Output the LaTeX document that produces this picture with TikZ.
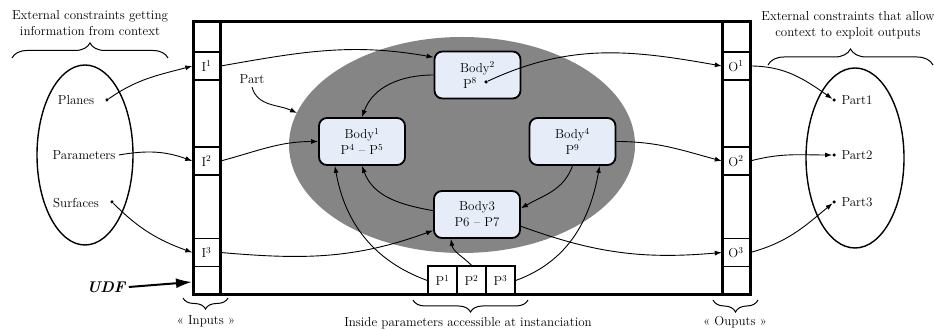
\documentclass[tikz,border=0pt]{standalone}
\usepackage{tikz}
\usetikzlibrary{arrows.meta,decorations.pathreplacing}
\definecolor{partgray}{RGB}{133,133,133}
\definecolor{bodyblue}{RGB}{231,237,248}

\begin{document}
\begin{tikzpicture}[x=1pt,y=1pt,font=\fontsize{13}{16}\selectfont,
    >={Latex[length=7pt,width=5pt]},
    body/.style={draw,line width=1.8pt,rounded corners=8pt,fill=bodyblue,
        minimum width=86pt,minimum height=47pt,align=center,inner sep=0pt},
    cell/.style={draw,line width=1.4pt,minimum width=27pt,minimum height=28pt,inner sep=0pt},
    pbox/.style={draw,line width=1.4pt,minimum width=29pt,minimum height=29pt,inner sep=0pt},
    link/.style={->,line width=0.9pt},
    dot/.style={circle,fill,inner sep=0pt,minimum size=3.5pt},
    brc/.style={decorate,decoration={brace,amplitude=#1},line width=1pt}]

        \useasboundingbox (0,0) rectangle (934,331);

        % the part
        \fill[partgray] (462,186) ellipse (173 and 108);

        \draw[line width=3pt] (193,309) rectangle (750,36);
        \draw[line width=3pt] (220,309) -- (220,36);
        \draw[line width=3pt] (722,309) -- (722,36);

        \foreach \n/\y in {1/265,2/170,3/78.5}
            { \node[cell] (I\n) at (206.5,\y) {I\textsuperscript{\n}};
              \node[cell] (O\n) at (736,\y) {O\textsuperscript{\n}}; }
        \foreach \n/\x in {1/442.5,2/471.5,3/500.5}
            { \node[pbox] (P\n) at (\x,50.5) {P\textsuperscript{\n}}; }

        \node[body] (body2) at (477.5,256) {Body\textsuperscript{2}\\P\textsuperscript{8}\hspace*{15pt}};
        \node[body] (body1) at (362,189.5) {Body\textsuperscript{1}\\P\textsuperscript{4} -- P\textsuperscript{5}};
        \node[body] (body4) at (572.5,189.5) {Body\textsuperscript{4}\\P\textsuperscript{9}};
        \node[body] (body3) at (477,116.5) {Body3\\P6 -- P7};
        \node[dot] (p8) at (486,249) {};

        \draw[line width=1.4pt] (85,176) ellipse (48 and 90);
        \draw[line width=1.4pt] (855,173) ellipse (49 and 90);

        \node (planes) at (76,231) {Planes};
        \node[dot] (planesdot) at (107,231) {};
        \node (params) at (84,176) {Parameters};
        \node (surf) at (76,128) {Surfaces};
        \node[dot] (surfdot) at (112,129) {};
        \foreach \n/\y in {1/231,2/176,3/129}
            { \node[anchor=west] (part\n) at (838,\y) {Part\n};
              \node[dot] (pd\n) at (834,\y) {}; }

        \draw[link] (planesdot) to[out=35,in=195] (I1.west);
        \draw[link] (params.east) to[out=10,in=160] (I2.west);
        \draw[link] (surfdot) to[out=-45,in=160] (I3.west);
        \draw[link] (I1.east) to[out=10,in=170] (body2.158);
        \draw[link] (I2.east) to[out=15,in=180] (body1.west);
        \draw[link] (I3.east) to[out=-5,in=200] (body3.200);
        \draw[link] (body2.west) to[out=180,in=70] (body1.north);
        \draw[link] (p8) to[out=25,in=170] (O1.west);
        \draw[link] (body4.east) to[out=0,in=165] (O2.west);
        \draw[link] (body3.-15) to[out=-20,in=185] (O3.west);
        \draw[link] (O1.east) to[out=0,in=145] (pd1);
        \draw[link] (O2.east) to[out=15,in=180] (pd2);
        \draw[link] (O3.east) to[out=15,in=220] (pd3);
        \draw[link] (body4.south) to[out=-110,in=30] (body3.8);
        \draw[link] (body3.175) to[out=170,in=-70] (body1.south);
        \draw[link] (P1.west) to[out=160,in=-80] (body1.-138);
        \draw[link] (P2.north) to[out=135,in=-80] (body3.-137);
        \draw[link] (P3.east) to[out=20,in=-100] (body4.-42);

        \node (partlbl) at (252,252) {Part};
        \coordinate (partedge) at (297,218);
        \draw[link] (partlbl.south) to[out=-75,in=155] (partedge);

        \node (udf) at (106,44) {\fontsize{15.5}{18}\selectfont\bfseries\itshape UDF};
        \coordinate (udfend) at (192,49);
        \draw[line width=2pt,-{Latex[length=16pt,width=10pt]}] (udf.east) -- (udfend);

        \draw[brc=15pt] (12,273) -- (168,273);
        \node[align=center] (extin) at (90,308) {External constraints getting\\information from context};
        \draw[brc=16pt] (768,266) -- (933,266);
        \node[align=center] (extout) at (848,306) {External constraints that allow\\context to exploit outputs};
        \draw[brc=11pt] (228,33) -- (183,33);
        \node (inputs) at (206,10) {« Inputs »};
        \draw[brc=12pt] (528,31) -- (413,31);
        \node (inside) at (468,8) {Inside parameters accessible at instanciation};
        \draw[brc=12pt] (758,31) -- (713,31);
        \node (outputs) at (735,9) {« Ouputs »};
    \end{tikzpicture}
\end{document}
